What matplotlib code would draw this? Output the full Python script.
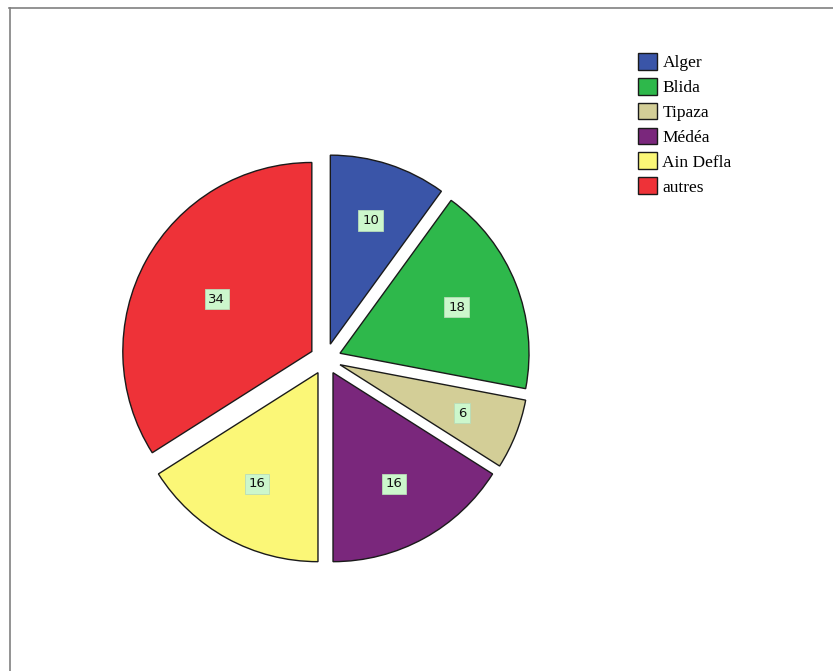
import numpy as np
import matplotlib
matplotlib.use("Agg")
import matplotlib.pyplot as plt
from matplotlib.lines import Line2D

regions = ["Alger", "Blida", "Tipaza", "Médéa", "Ain Defla", "autres"]
counts = [10, 18, 6, 16, 16, 34]
colors = ["#3a55a8", "#2eb84b", "#d3ce97", "#7a277c", "#fbf777", "#ee3238"]

W, H = 833, 671
fig = plt.figure(figsize=(W / 100, H / 100), dpi=100)
ax = fig.add_axes([0, 0, 1, 1])

radius = 189
center = (325.5, H - 359)
explode_px = 15.6

wedges, _ = ax.pie(
    counts,
    colors=colors,
    startangle=90,
    counterclock=False,
    radius=radius,
    center=center,
    explode=[explode_px] * len(counts),
    wedgeprops=dict(edgecolor="#1a1a1a", linewidth=1.0),
    frame=True,
)

# value labels sit near the centroid of each (exploded) wedge
for w, n in zip(wedges, counts):
    t1, t2 = np.deg2rad(w.theta1), np.deg2rad(w.theta2)
    span = t2 - t1
    mid = (t1 + t2) / 2
    cx, cy = w.center
    dist = 1.05 * 4 * w.r * np.sin(span / 2) / (3 * span)
    ax.text(cx + dist * np.cos(mid), cy + dist * np.sin(mid), str(n),
            ha="center", va="center", fontsize=9.5, family="DejaVu Sans",
            color="#111111",
            bbox=dict(boxstyle="square,pad=0.28", facecolor="#ccf7cc",
                      edgecolor="#b8dcb8", linewidth=0.6))

ax.set_xlim(0, W)
ax.set_ylim(0, H)
ax.set_aspect("equal")
for s in ax.spines.values():
    s.set_visible(False)
ax.set_xticks([])
ax.set_yticks([])

# thin gray frame on the top and left edges
fig.add_artist(Line2D([9 / W, 1], [1 - 7.5 / H, 1 - 7.5 / H], transform=fig.transFigure,
                      color="#808080", linewidth=1.2))
fig.add_artist(Line2D([9.5 / W, 9.5 / W], [0, 1 - 7.5 / H], transform=fig.transFigure,
                      color="#808080", linewidth=1.2))

handles = [plt.Rectangle((0, 0), 1, 1, facecolor=c, edgecolor="#1a1a1a", linewidth=1.0)
           for c in colors]
ax.legend(handles, regions, loc="upper left", bbox_to_anchor=(626 / W, 1 - 41 / H),
          bbox_transform=fig.transFigure, frameon=False,
          prop=dict(family="Liberation Serif", size=12.5),
          handlelength=1.1, handleheight=1.1, handletextpad=0.3,
          labelspacing=0.38, borderpad=0.2)

fig.savefig("out.png", dpi=100)
